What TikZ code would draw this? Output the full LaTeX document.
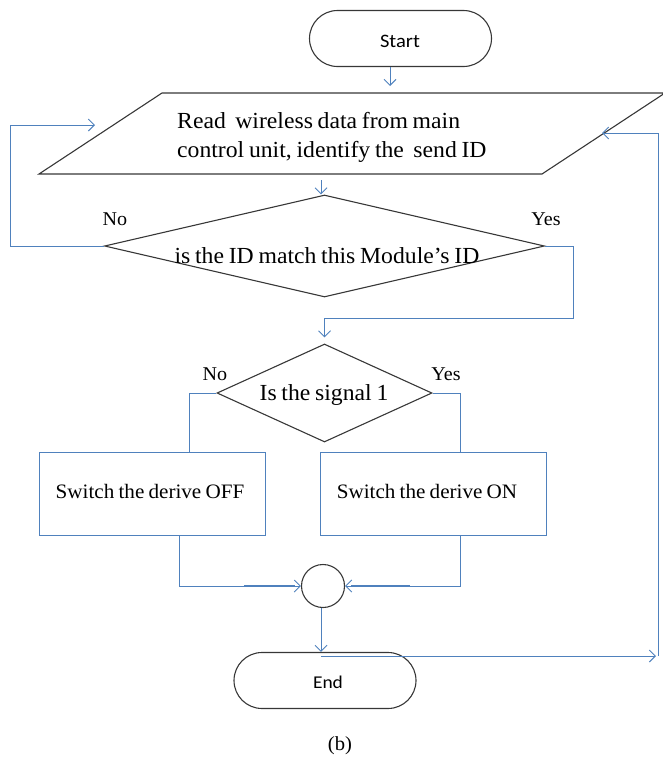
\documentclass[tikz,border=0pt]{standalone}
\usepackage{fontspec}
\setmainfont{Liberation Serif}[FakeStretch=1.03,WordSpace=0.8]
\newfontfamily\calib{Carlito}[FakeStretch=1.08]
\usetikzlibrary{shapes.geometric,shapes.misc,arrows.meta}
\definecolor{linecol}{RGB}{79,129,189}
\definecolor{shapecol}{RGB}{55,55,55}
\tikzset{
  shp/.style={draw=shapecol, line width=1.1pt},
  term/.style={shp, rounded rectangle, minimum width=182pt, minimum height=56pt, inner sep=0pt},
  dia/.style={shp, diamond, inner sep=0pt},
  boxstep/.style={draw=linecol, line width=0.9pt, rectangle, minimum width=226pt, minimum height=83pt, inner sep=0pt},
  conn/.style={draw=linecol, line width=1pt, -{Straight Barb[length=6pt,width=12pt,line width=1pt]}},
  wire/.style={draw=linecol, line width=1pt},
  maintxt/.style={inner sep=0pt, font=\fontsize{23}{29}\selectfont},
  boxtxt/.style={inner sep=0pt, font=\fontsize{20.5}{23}\selectfont},
  lbl/.style={inner sep=0pt, anchor=base, font=\fontsize{19.5}{22}\selectfont},
}
\begin{document}
\begin{tikzpicture}[x=1pt,y=-1pt]
\useasboundingbox (0,0) rectangle (662,758);
% terminals
\node[term] (start) at (400.5,38.5) {};
\node[anchor=base, inner sep=0pt, font=\calib\fontsize{19}{22}\selectfont] (startt) at (400,47) {Start};
% parallelogram
\coordinate (p1) at (162,93);
\coordinate (p2) at (665,93);
\coordinate (p3) at (542,174);
\coordinate (p4) at (39,174);
\draw[shp] (p1) -- (p2) -- (p3) -- (p4) -- cycle;
\node[maintxt, anchor=base west] (read1) at (177,128) {Read\ \ wireless data from main};
\node[maintxt, anchor=base west] (read2) at (177,157) {control unit, identify the\ \ send ID};
% decisions
\node[dia, minimum width=440pt, minimum height=102pt] (d1) at (324.5,246) {};
\node[maintxt, anchor=base] (d1t) at (327,263) {is the ID match this Module’s ID};
\node[dia, minimum width=215pt, minimum height=98pt] (d2) at (324.5,393) {};
\node[maintxt, anchor=base] (d2t) at (324,400) {Is the signal 1};
% boxes
\node[boxstep] (off) at (152,493.5) {};
\node[boxtxt, anchor=base] (offt) at (150,498) {Switch the derive OFF};
\node[boxstep] (on) at (433,493.5) {};
\node[boxtxt, anchor=base] (ont) at (427,498) {Switch the derive ON};
% junction
\node[shp, circle, minimum size=43pt, inner sep=0pt] (circ) at (323,586) {};
\node[term] (end) at (325,680.5) {};
\node[anchor=base, inner sep=0pt, font=\calib\fontsize{18}{22}\selectfont] (endt) at (328,688) {End};
% labels
\node[lbl] (no1) at (115,225) {No};
\node[lbl] (yes1) at (546,225) {Yes};
\node[lbl] (no2) at (215,380) {No};
\node[lbl] (yes2) at (446,380) {Yes};
\node[lbl, font=\fontsize{20}{22}\selectfont] (cap) at (340,750) {(b)};
% coordinates for connectors
\coordinate (pin) at (390,93);
\coordinate (pbot) at (321,174);
\coordinate (lcorner) at (10,125);
\coordinate (lret) at (95,125);
\coordinate (ycorner) at (573,318);
\coordinate (eTop) at (321,656);
\coordinate (rArr) at (656,656);
\coordinate (rCorner) at (658,656);
\coordinate (pin2) at (602,133);
% connectors
\draw[conn, shorten >=7pt] (pin |- start.south) -- (pin);
\draw[conn, shorten <=6pt] (pbot) -- (pbot |- d1.north);
\draw[conn] (d1.west) -| (lcorner) -- (lret);
\draw[conn, shorten >=6pt] (d1.east) -| (ycorner) -| (d2.north);
\draw[wire] (d2.west) -| ([xshift=37pt]off.north);
\draw[wire] (d2.east) -| ([xshift=27pt]on.north);
\draw[conn] ([xshift=27pt]off.south) |- (circ.west);
\draw[conn] ([xshift=27pt]on.south) |- (circ.east);
\draw[wire, line width=1.8pt] ([xshift=-57pt]circ.west) -- ([xshift=-6pt]circ.west);
\draw[wire, line width=1.8pt] ([xshift=65pt]circ.east) -- ([xshift=6pt]circ.east);
\draw[conn] (circ.south -| eTop) -- (eTop |- end.north);
\draw[conn] (eTop) -- (rArr);
\draw[conn] (rCorner) |- (pin2);
\end{tikzpicture}
\end{document}
